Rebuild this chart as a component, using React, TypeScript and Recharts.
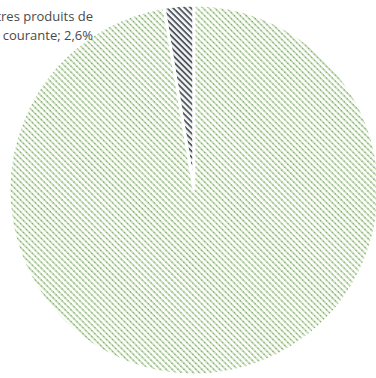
import { PieChart, Pie, Cell } from 'recharts'

const categories = ['Autres produits de consommation courante', 'Autres']
const shares = [2.6, 97.4]
const labelLines = ['Autres produits de', 'consommation courante; 2,6%']

const data = categories.map((name, i) => ({ name, value: shares[i] }))
const fills = ['url(#hatchDark)', 'url(#hatchGreen)']

function renderLabel(props: any) {
  if (props.index !== 0) return null
  const x = props.cx - 101
  const y = props.cy - 169
  return (
    <text x={x} y={y} textAnchor="end" fontFamily="'Open Sans', sans-serif" fontSize={13} fill="#4a4a4a">
      <tspan x={x} dy={0}>{labelLines[0]}</tspan>
      <tspan x={x} dy={19}>{labelLines[1]}</tspan>
    </text>
  )
}

export default function App() {
  return (
    <div style={{ width: 376, height: 378, background: '#fff' }}>
      <style>{'body{margin:0}'}</style>
      <PieChart width={376} height={378} margin={{ top: 0, right: 0, bottom: 0, left: 0 }}>
        <defs>
          <pattern id="hatchGreen" width={4.2} height={4.2} patternUnits="userSpaceOnUse" patternTransform="rotate(45)">
            <rect width={4.2} height={4.2} fill="#fbfdf9" />
            <rect width={4.2} height={1.6} fill="#c2d9b3" />
            <rect x={0} y={0} width={1} height={1.6} fill="#86aa78" />
          </pattern>
          <pattern id="hatchDark" width={4.2} height={4.2} patternUnits="userSpaceOnUse" patternTransform="rotate(45)">
            <rect width={4.2} height={4.2} fill="#f6f6f6" />
            <rect width={4.2} height={1.8} fill="#4f575f" />
          </pattern>
        </defs>
        <Pie
          data={data}
          dataKey="value"
          nameKey="name"
          cx={194}
          cy={190}
          outerRadius={185}
          startAngle={90}
          endAngle={450}
          stroke="#ffffff"
          strokeWidth={3}
          label={renderLabel}
          labelLine={false}
          isAnimationActive={false}
        >
          {data.map((d, i) => (
            <Cell key={d.name} fill={fills[i]} />
          ))}
        </Pie>
      </PieChart>
    </div>
  )
}
